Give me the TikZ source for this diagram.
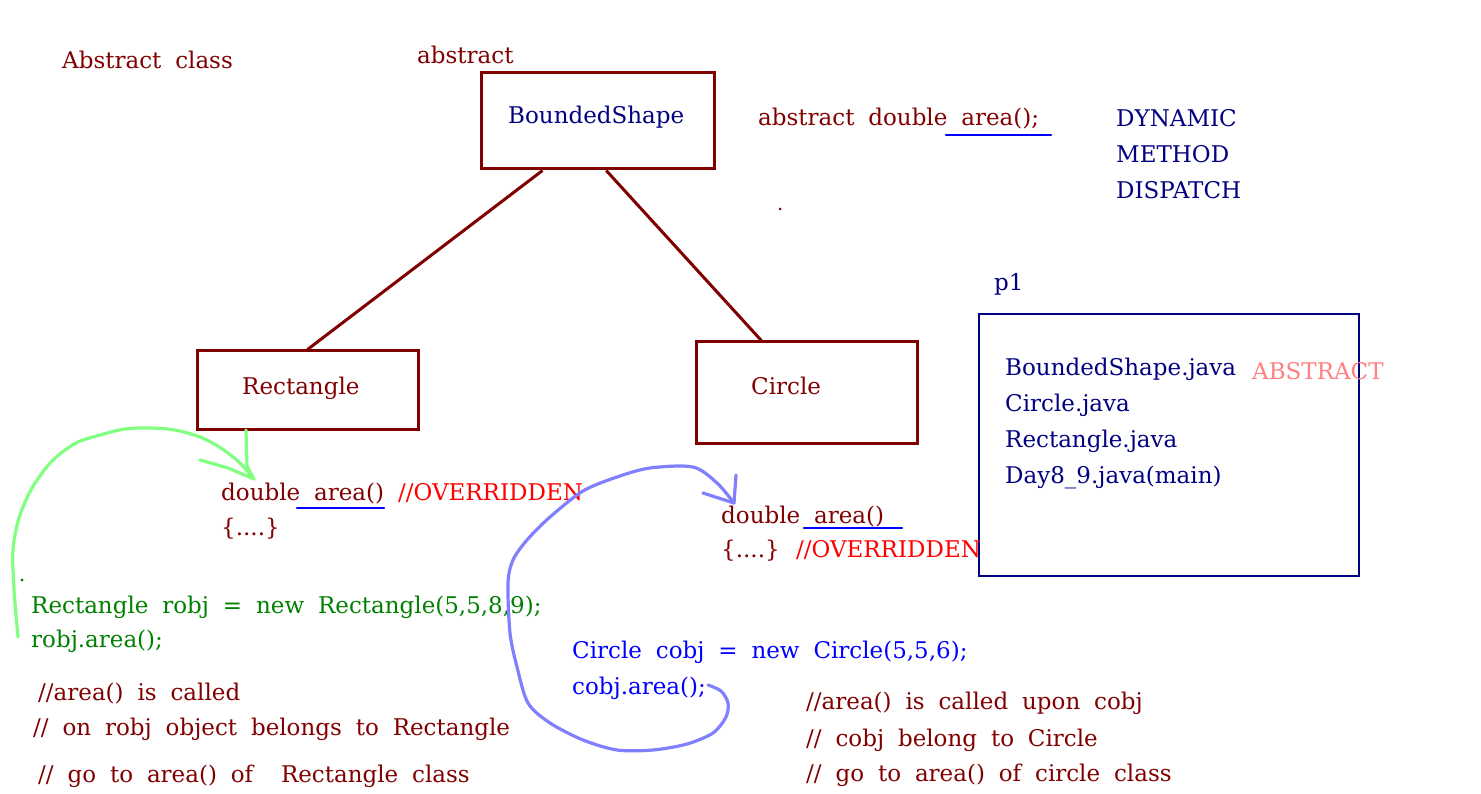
\documentclass[tikz,border=0pt]{standalone}
\usepackage{fontspec}
\setmainfont[WordSpace=1.9]{DejaVu Serif}
\definecolor{darkred}{RGB}{128,0,0}
\definecolor{navyblue}{RGB}{0,0,128}
\definecolor{codegreen}{RGB}{0,128,0}
\definecolor{penblue}{RGB}{128,128,255}
\definecolor{pengreen}{RGB}{128,255,128}
\definecolor{pinkred}{RGB}{255,128,128}
\tikzset{
  txt/.style={anchor=base west, inner sep=0pt, font=\fontsize{23}{28}\selectfont},
  classbox/.style={draw=darkred, line width=3pt, inner sep=0pt},
  pkgbox/.style={draw=navyblue, line width=2.6pt, inner sep=0pt},
  classline/.style={draw=darkred, line width=3pt},
  underl/.style={draw=blue, line width=2.6pt, line cap=round},
  pen/.style={line width=3.2pt, line cap=round, line join=round},
}
\begin{document}
\begin{tikzpicture}[x=1pt,y=1pt,yscale=-1]
\useasboundingbox (0,0) rectangle (1481,794);

%Shape: Rectangle
\node[classbox, minimum width=233, minimum height=96] (bshape) at (597.5,121) {};
\node[classbox, minimum width=221, minimum height=78] (rect) at (307.5,390) {};
\node[classbox, minimum width=221, minimum height=101] (circ) at (806.5,392.5) {};
\node[pkgbox, minimum width=380, minimum height=262] (pkg) at (1169,445) {};

%Straight Lines
\draw[classline] (bshape.222) -- (rect.north);
\draw[classline] (bshape.280) -- (circ.131);

% Text Node
\node[txt, darkred] (abscls) at (62,69) {Abstract class};
\node[txt, darkred] (abskw) at (417,64) {abstract};
\node[txt, navyblue] (bshapetxt) at (508,124) {BoundedShape};
\node[txt, darkred] (rectxt) at (242,395) {Rectangle};
\node[txt, darkred] (circtxt) at (751,394) {Circle};
\node[txt, darkred] (absarea) at (758,126) {abstract double area();};
\node[txt, navyblue] (dyn1) at (1116,127) {DYNAMIC};
\node[txt, navyblue] (dyn2) at (1116,163) {METHOD};
\node[txt, navyblue] (dyn3) at (1116,199) {DISPATCH};

% package p1
\node[txt, navyblue] (pname) at (994,291) {p1};
\node[txt, navyblue] (f1) at (1005,375) {BoundedShape.java};
\node[txt, pinkred] (abstag) at (1252,379) {ABSTRACT};
\node[txt, navyblue] (f2) at (1005,411) {Circle.java};
\node[txt, navyblue] (f3) at (1005,447) {Rectangle.java};
\node[txt, navyblue] (f4) at (1005,483) {Day8\_9.java(main)};

% overridden methods
\node[txt, darkred] (recarea) at (221,500) {double area() {\color{red}//OVERRIDDEN}};
\node[txt, darkred] (recbody) at (221,535) {\{....\}};
\node[txt, darkred] (cirarea) at (721,523) {double area()};
\node[txt, darkred] (cirbody) at (721,557) {\{....\} {\color{red}//OVERRIDDEN}};

% main code
\node[txt, codegreen] (robj1) at (31,613) {Rectangle robj = new Rectangle(5,5,8,9);};
\node[txt, codegreen] (robj2) at (31,647) {robj.area();};
\node[txt, blue] (cobj1) at (572,658) {Circle cobj = new Circle(5,5,6);};
\node[txt, blue] (cobj2) at (572,694) {cobj.area();};

% comments
\node[txt, darkred] (rcom1) at (38,700) {//area() is called};
\node[txt, darkred] (rcom2) at (33,735) {// on robj object belongs to Rectangle};
\node[txt, darkred] (rcom3) at (38,782) {// go to area() of \ Rectangle class};
\node[txt, darkred] (ccom1) at (806,709) {//area() is called upon cobj};
\node[txt, darkred] (ccom2) at (806,746) {// cobj belong to Circle};
\node[txt, darkred] (ccom3) at (806,781) {// go to area() of circle class};

% underlines
\draw[underl] (946,135) -- (1051,135);
\draw[underl] (297,508) -- (384,508);
\draw[underl] (804,528) -- (902,528);

% dots
\fill[darkred] (780,209) circle (1.5);
\fill[codegreen] (22,580) circle (1.6);

% green pen arrow
\coordinate (gstart) at (18,637);
\coordinate (gtip) at (254,479);
\draw[pen, pengreen] plot[smooth, tension=0.5] coordinates {(gstart) (14,590) (13,550) (19,518) (32,488) (52,461) (76,443) (100,435) (125,429) (150,428) (175,430) (200,437) (221,448) (240,463) (gtip)};
\draw[pen, pengreen] (200,460) -- (228,468) -- (gtip);
\draw[pen, pengreen] (246,430) -- (247,466) -- (gtip);

% blue pen arrow
\coordinate (bstart) at (708,685);
\coordinate (btip) at (734,503);
\draw[pen, penblue] plot[smooth, tension=0.5] coordinates {(bstart) (721,691) (728,703) (726,717) (713,733) (687,744) (653,750) (617,750) (583,740) (550,723) (528,703) (517,667) (510,633) (508,583) (513,560) (527,540) (550,517) (583,491) (617,477) (650,468) (693,467) (717,483) (btip)};
\draw[pen, penblue] (703,493) -- (btip);
\draw[pen, penblue] (736,475) -- (btip);

\end{tikzpicture}
\end{document}
